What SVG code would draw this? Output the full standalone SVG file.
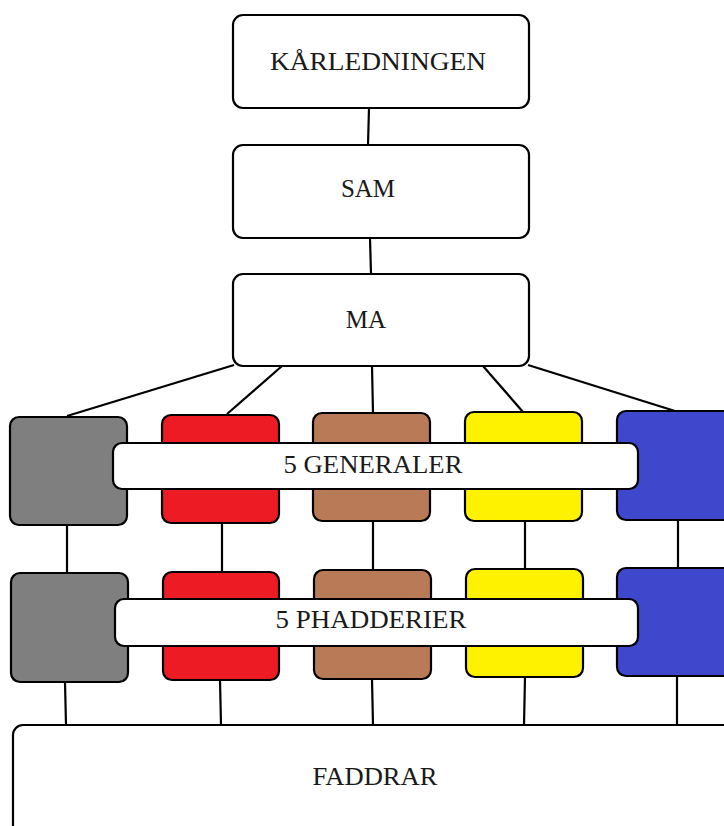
<svg xmlns="http://www.w3.org/2000/svg" width="724" height="826" viewBox="0 0 724 826">
<style>
.b{stroke:#000;stroke-width:2.2}
.w{fill:#fff}
.c{stroke:#000;stroke-width:2.2;fill:none}
text{font-family:"Liberation Serif","Times New Roman",serif;font-size:25px;fill:#1a1a1a;text-anchor:middle}
</style>
<rect width="724" height="826" fill="#fff"/>
<g id="connectors">
<line class="c" x1="369" y1="108" x2="368" y2="145"/>
<line class="c" x1="370" y1="238" x2="371" y2="274"/>
<line class="c" x1="234" y1="365" x2="67" y2="416"/>
<line class="c" x1="282" y1="366" x2="227" y2="414"/>
<line class="c" x1="372" y1="366" x2="373" y2="413"/>
<line class="c" x1="483" y1="366" x2="523" y2="412"/>
<line class="c" x1="528" y1="365" x2="675" y2="411"/>
<line class="c" x1="67" y1="525" x2="67" y2="574"/>
<line class="c" x1="222" y1="523" x2="222" y2="572"/>
<line class="c" x1="373" y1="521" x2="373" y2="570"/>
<line class="c" x1="525" y1="521" x2="525" y2="569"/>
<line class="c" x1="678" y1="520" x2="678" y2="568"/>
<line class="c" x1="65" y1="682" x2="66" y2="725"/>
<line class="c" x1="220" y1="680" x2="221" y2="725"/>
<line class="c" x1="372" y1="679" x2="373" y2="725"/>
<line class="c" x1="525" y1="677" x2="524" y2="725"/>
<line class="c" x1="677" y1="676" x2="677" y2="725"/>
</g>
<g id="karledningen">
<rect class="b w" x="233" y="15" width="296" height="93" rx="10"/>
<text x="378" y="70" textLength="216" lengthAdjust="spacingAndGlyphs">KÅRLEDNINGEN</text>
</g>
<g id="sam">
<rect class="b w" x="233" y="145" width="296" height="93" rx="10"/>
<text x="368" y="197">SAM</text>
</g>
<g id="ma">
<rect class="b w" x="233" y="274" width="296" height="92" rx="10"/>
<text x="366" y="328">MA</text>
</g>
<g id="general-gray"><rect class="b" fill="#7f7f7f" x="10" y="417" width="117" height="108" rx="9"/></g>
<g id="general-red"><rect class="b" fill="#ed1c24" x="162" y="415" width="117" height="108" rx="9"/></g>
<g id="general-brown"><rect class="b" fill="#b97a57" x="313" y="413" width="117" height="108" rx="9"/></g>
<g id="general-yellow"><rect class="b" fill="#fff200" x="465" y="412" width="117" height="109" rx="9"/></g>
<g id="general-blue"><rect class="b" fill="#3f48cc" x="617" y="411" width="117" height="109" rx="9"/></g>
<g id="phadder-gray"><rect class="b" fill="#7f7f7f" x="11" y="573" width="117" height="109" rx="9"/></g>
<g id="phadder-red"><rect class="b" fill="#ed1c24" x="163" y="572" width="116" height="108" rx="9"/></g>
<g id="phadder-brown"><rect class="b" fill="#b97a57" x="314" y="570" width="117" height="109" rx="9"/></g>
<g id="phadder-yellow"><rect class="b" fill="#fff200" x="466" y="569" width="117" height="108" rx="9"/></g>
<g id="phadder-blue"><rect class="b" fill="#3f48cc" x="617" y="568" width="117" height="108" rx="9"/></g>
<g id="generaler-label">
<rect class="b w" x="113" y="443" width="525" height="46" rx="9"/>
<text x="373" y="473" textLength="179" lengthAdjust="spacingAndGlyphs">5 GENERALER</text>
</g>
<g id="phadderier-label">
<rect class="b w" x="115" y="599" width="523" height="47" rx="9"/>
<text x="371" y="628" textLength="191" lengthAdjust="spacingAndGlyphs">5 PHADDERIER</text>
</g>
<g id="faddrar">
<rect class="b w" x="13" y="725" width="730" height="120" rx="10"/>
<text x="375" y="785" textLength="125" lengthAdjust="spacingAndGlyphs">FADDRAR</text>
</g>
</svg>
